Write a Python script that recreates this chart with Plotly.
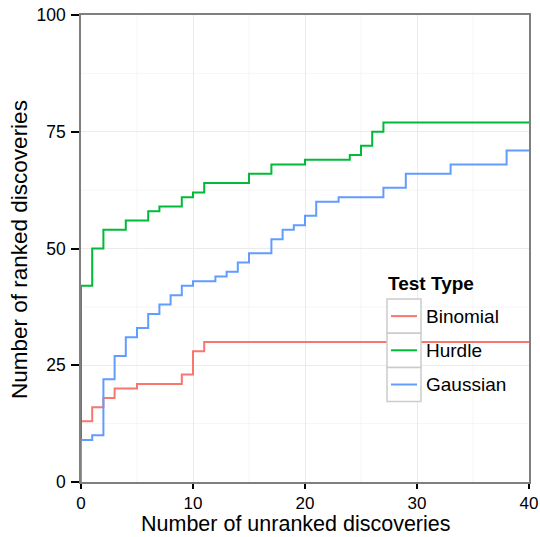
import plotly.graph_objects as go

# Data (step curves: x = unranked discoveries, y = ranked discoveries)
series_names = ["Binomial", "Hurdle", "Gaussian"]
series_colors = ["#F8766D", "#00BA38", "#619CFF"]

binomial_x = [0, 0, 1, 2, 3, 5, 9, 10, 11, 40]
binomial_y = [0, 13, 16, 18, 20, 21, 23, 28, 30, 30]

hurdle_x = [0, 0, 1, 2, 4, 6, 7, 9, 10, 11, 15, 17, 20, 24, 25, 26, 27, 40]
hurdle_y = [0, 42, 50, 54, 56, 58, 59, 61, 62, 64, 66, 68, 69, 70, 72, 75, 77, 77]

gaussian_x = [0, 0, 1, 2, 3, 4, 5, 6, 7, 8, 9, 10, 12, 13, 14, 15, 17, 18, 19, 20, 21, 23, 27, 29, 33, 38, 40]
gaussian_y = [0, 9, 10, 22, 27, 31, 33, 36, 38, 40, 42, 43, 44, 45, 47, 49, 52, 54, 55, 57, 60, 61, 63, 66, 68, 71, 71]

x_ticks = [0, 10, 20, 30, 40]
y_ticks = [0, 25, 50, 75, 100]
x_minor = [5, 15, 25, 35]
y_minor = [12.5, 37.5, 62.5, 87.5]

x_title = "Number of unranked discoveries"
y_title = "Number of ranked discoveries"
legend_title = "Test Type"

xs = [binomial_x, hurdle_x, gaussian_x]
ys = [binomial_y, hurdle_y, gaussian_y]

FONT = "Liberation Sans, Arial, Helvetica, sans-serif"
W, H = 540, 537
ML, MR, MT, MB = 81, 11, 15, 55

fig = go.Figure()
for name, color, x, y in zip(series_names, series_colors, xs, ys):
    fig.add_trace(go.Scatter(x=x, y=y, mode="lines", name=name,
                             line=dict(color=color, width=2, shape="hv"),
                             showlegend=False))

pw = W - ML - MR
ph = H - MT - MB
def px2x(px):
    return (px - ML) / pw
def py2y(py):
    return (H - MB - py) / ph

shapes = []
annotations = []
# minor gridlines
for v in x_minor:
    shapes.append(dict(type="line", xref="x", yref="paper", x0=v, x1=v, y0=0, y1=1,
                       line=dict(color="#f5f5f5", width=1), layer="below"))
for v in y_minor:
    shapes.append(dict(type="line", xref="paper", yref="y", x0=0, x1=1, y0=v, y1=v,
                       line=dict(color="#f5f5f5", width=1), layer="below"))

# Axis titles
annotations.append(dict(text=x_title, xref="paper", yref="paper",
                        x=px2x(296), y=py2y(537), xanchor="center", yanchor="bottom",
                        borderpad=0,
                        showarrow=False, font=dict(family=FONT, size=21.5, color="black")))
annotations.append(dict(text=y_title, xref="paper", yref="paper", textangle=-90,
                        x=px2x(19), y=py2y(250), xanchor="center", yanchor="middle",
                        showarrow=False, font=dict(family=FONT, size=22.5, color="black")))

# Legend (manual, ggplot-like keys)
annotations.append(dict(text="<b>" + legend_title + "</b>", xref="paper", yref="paper",
                        x=px2x(386), y=py2y(283), xanchor="left", yanchor="middle",
                        showarrow=False, font=dict(family=FONT, size=19, color="black")))
key_top = 299
key_h = 34.2
for i, (name, color) in enumerate(zip(series_names, series_colors)):
    y0 = key_top + i * key_h
    y1 = y0 + key_h
    yc = (y0 + y1) / 2
    shapes.append(dict(type="rect", xref="paper", yref="paper",
                       x0=px2x(387), x1=px2x(421), y0=py2y(y1), y1=py2y(y0),
                       line=dict(color="#cccccc", width=1.5), fillcolor="white", layer="above"))
    shapes.append(dict(type="line", xref="paper", yref="paper",
                       x0=px2x(391), x1=px2x(417), y0=py2y(yc), y1=py2y(yc),
                       line=dict(color=color, width=2), layer="above"))
    annotations.append(dict(text=name, xref="paper", yref="paper",
                            x=px2x(424), y=py2y(yc), xanchor="left", yanchor="middle",
                            showarrow=False, font=dict(family=FONT, size=19, color="black")))

axis_common = dict(showline=True, linecolor="#7f7f7f", linewidth=1.5, mirror=True,
                   ticks="outside", tickcolor="black", tickwidth=1.5,
                   gridcolor="#ebebeb", gridwidth=1, zeroline=False, automargin=False)

fig.update_layout(
    width=W, height=H,
    margin=dict(l=ML, r=MR, t=MT, b=MB),
    paper_bgcolor="white", plot_bgcolor="white",
    font=dict(family=FONT, color="black"),
    shapes=shapes, annotations=annotations,
    xaxis=dict(range=[0, 40], tickvals=x_ticks, ticktext=[str(v) for v in x_ticks],
               ticklen=5, tickfont=dict(family=FONT, size=17, color="black"),
               **axis_common),
    yaxis=dict(range=[0, 100], tickvals=y_ticks, ticktext=[str(v) for v in y_ticks],
               ticklen=8, ticklabelstandoff=2,
               tickfont=dict(family=FONT, size=17.5, color="black"), **axis_common),
)

fig.write_html("out.html")
